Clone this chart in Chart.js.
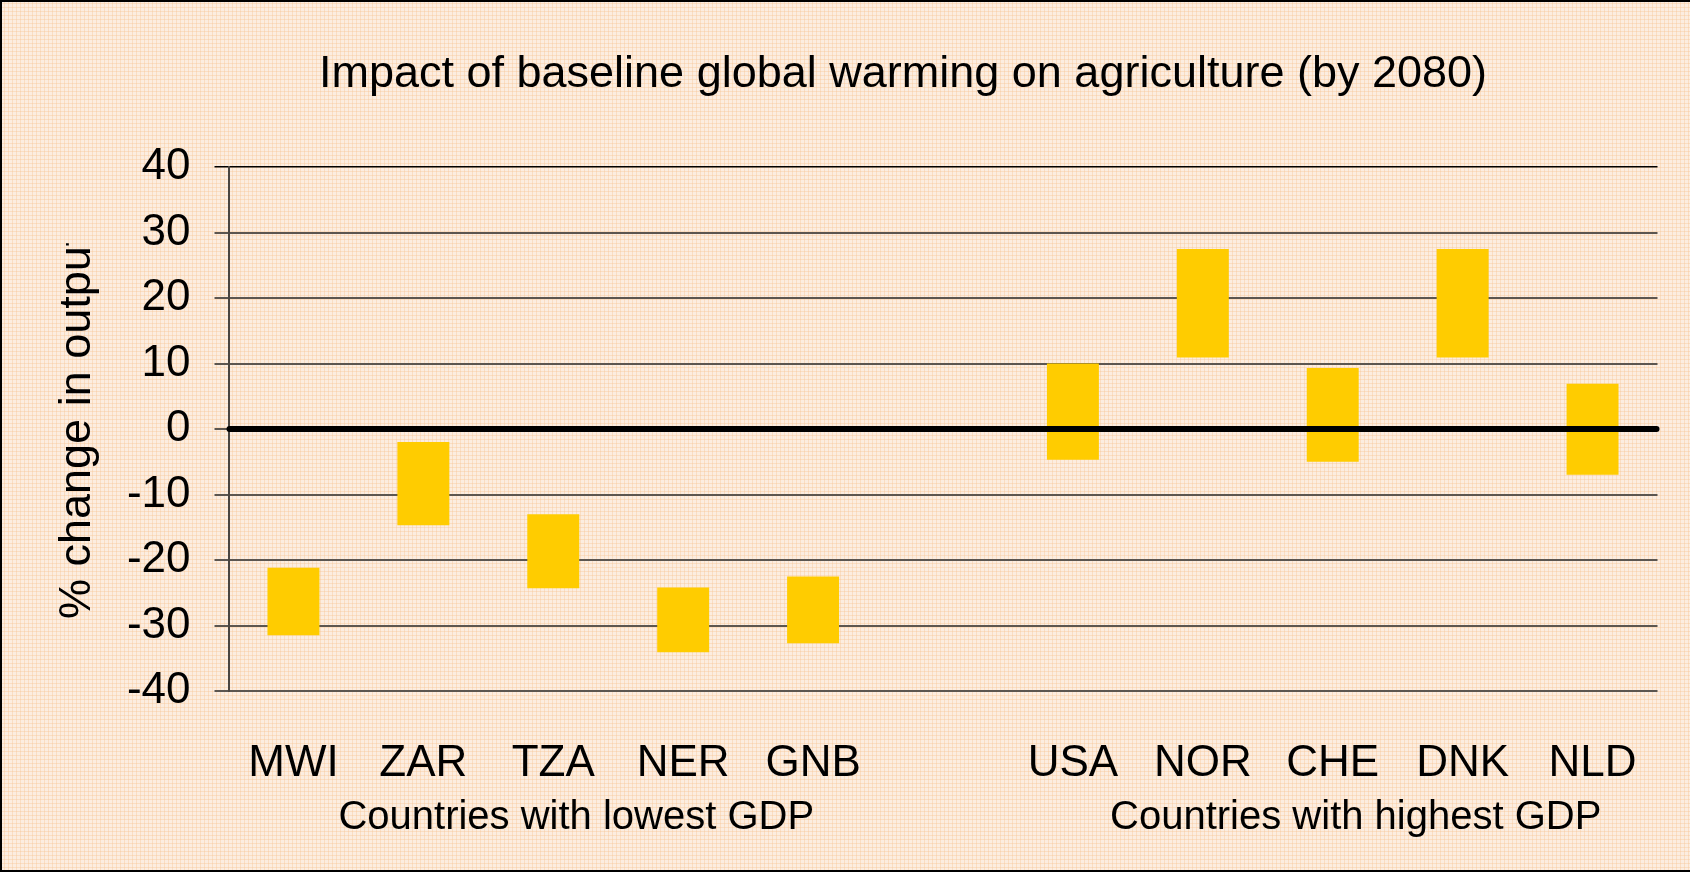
<!DOCTYPE html>
<html>
<head>
<meta charset="utf-8">
<title>Impact of baseline global warming on agriculture (by 2080)</title>
<script src="https://cdn.jsdelivr.net/npm/chart.js@4/dist/chart.umd.min.js"></script>
<style>
  html, body { margin: 0; padding: 0; }
  body {
    width: 1690px; height: 872px; overflow: hidden; position: relative;
    background-color: #fcede0;
    background-image:
      repeating-linear-gradient(90deg, rgba(246, 192, 138, 0.34) 0 1px, transparent 1px 4px),
      repeating-linear-gradient(0deg, rgba(246, 192, 138, 0.34) 0 1px, transparent 1px 4px);
  }
  #wrap { position: absolute; left: 0; top: 0; width: 1690px; height: 872px; }
  #frame {
    position: absolute; left: 0; top: 0; width: 1690px; height: 872px; box-sizing: border-box;
    border-left: 2px solid #000; border-top: 2px solid #000; border-bottom: 2px solid #000;
    pointer-events: none;
  }
</style>
</head>
<body>
<div id="wrap"><canvas id="chart" width="1690" height="872"></canvas></div>
<div id="frame"></div>
<script>
// Country codes; the blank slot separates the two groups
const countries = ['MWI', 'ZAR', 'TZA', 'NER', 'GNB', '', 'USA', 'NOR', 'CHE', 'DNK', 'NLD'];
// Range of % change in agricultural output (low and high estimate)
const lowEstimate  = [-31.5, -14.7, -24.3, -34.1, -32.7, null, -4.7, 10.9, -5.0, 10.9, -7.0];
const highEstimate = [-21.2,  -2.0, -13.0, -24.2, -22.5, null, 10.0, 27.5,  9.3, 27.5,  6.9];
// Value axis ticks
const yMin = -40, yMax = 40, yStep = 10;
// Group captions and the category indices they cover
const groupLabels = ['Countries with lowest GDP', 'Countries with highest GDP'];
const groupFirst = [0, 6];
const groupLast  = [4, 10];

const chartTitle = 'Impact of baseline global warming on agriculture (by 2080)';
const yTitle = '% change in output';
const FONT = '"Liberation Sans", Arial, sans-serif';

const ranges = countries.map((c, i) =>
  lowEstimate[i] === null ? null : [lowEstimate[i], highEstimate[i]]);

const decorations = {
  id: 'decorations',
  afterDatasetsDraw(chart) {
    const { ctx, chartArea, scales } = chart;
    const y0 = scales.y.getPixelForValue(0);
    ctx.save();
    ctx.strokeStyle = '#000';
    ctx.lineWidth = 6;
    ctx.lineCap = 'round';
    ctx.beginPath();
    ctx.moveTo(chartArea.left + 1, y0);
    ctx.lineTo(chartArea.right - 1, y0);
    ctx.stroke();
    ctx.restore();
  },
  afterDraw(chart) {
    const { ctx, scales } = chart;
    ctx.save();
    ctx.fillStyle = '#000';

    // Title
    ctx.font = '45px ' + FONT;
    ctx.textAlign = 'center';
    ctx.textBaseline = 'alphabetic';
    ctx.fillText(chartTitle, 903, 87);

    // Group captions under the category labels
    ctx.font = '40px ' + FONT;
    groupLabels.forEach((g, k) => {
      const xa = scales.x.getPixelForValue(groupFirst[k]);
      const xb = scales.x.getPixelForValue(groupLast[k]);
      ctx.fillText(g, (xa + xb) / 2 + 23, 829);
    });

    // Rotated value-axis title, cut off at its top end
    ctx.font = '45px ' + FONT;
    const startY = 619;
    const visible = ctx.measureText(yTitle.slice(0, -1)).width;
    ctx.beginPath();
    ctx.rect(0, startY - visible - 3, 200, visible + 60);
    ctx.clip();
    ctx.translate(90, startY);
    ctx.rotate(-Math.PI / 2);
    ctx.textAlign = 'left';
    ctx.fillText(yTitle, 0, 0);
    ctx.restore();
  }
};

new Chart(document.getElementById('chart'), {
  type: 'bar',
  data: {
    labels: countries,
    datasets: [{
      data: ranges,
      backgroundColor: '#ffcc00',
      borderWidth: 0,
      barPercentage: 0.4,
      categoryPercentage: 1.0
    }]
  },
  options: {
    responsive: false,
    animation: false,
    devicePixelRatio: 1,
    layout: { padding: { top: 167, right: 32.5, left: 0, bottom: 0 } },
    plugins: {
      legend: { display: false },
      title: { display: false },
      tooltip: { enabled: false }
    },
    scales: {
      x: {
        grid: { display: false, drawTicks: false },
        border: { display: false },
        ticks: {
          color: '#000',
          font: { family: FONT, size: 44 },
          padding: 46,
          maxRotation: 0,
          autoSkip: false
        },
        afterFit(scale) { scale.height = 181; }
      },
      y: {
        min: yMin,
        max: yMax,
        grid: {
          color: c => (c.tick && c.tick.value === yMax) ? '#000' : '#5c5650',
          lineWidth: c => (c.tick && c.tick.value === yMax) ? 1.5 : 2,
          tickLength: 14
        },
        border: { display: true, color: '#4a4540', width: 2 },
        ticks: {
          stepSize: yStep,
          color: '#000',
          font: { family: FONT, size: 44 },
          padding: 24
        },
        afterFit(scale) { scale.width = 228.5; }
      }
    }
  },
  plugins: [decorations]
});
</script>
</body>
</html>
